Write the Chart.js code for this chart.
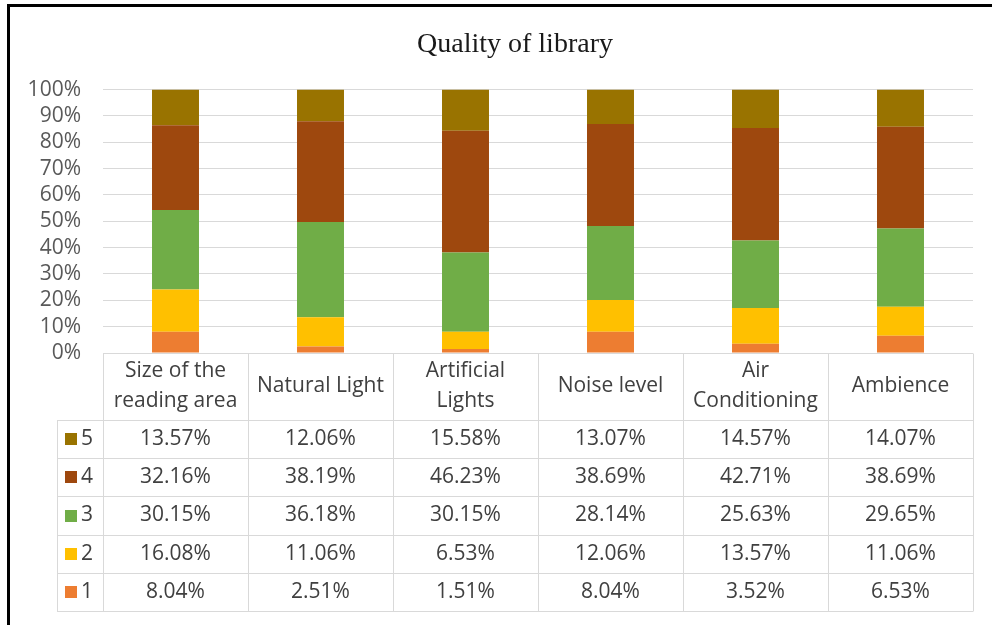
<!DOCTYPE html>
<html>
<head>
<meta charset="utf-8">
<title>Quality of library</title>
<script src="https://cdn.jsdelivr.net/npm/chart.js@4.4.1/dist/chart.umd.min.js"></script>
<style>
  html,body{margin:0;padding:0;background:#fff;}
  #wrap{position:relative;width:992px;height:625px;overflow:hidden;background:#fff;}
  #frame{position:absolute;left:7px;top:4px;right:-10px;bottom:-10px;border-left:3px solid #000;border-top:3px solid #000;pointer-events:none;}
</style>
</head>
<body>
<div id="wrap">
  <canvas id="chart" width="992" height="625"></canvas>
  <div id="frame"></div>
</div>
<script>
// categories (multi-line header labels)
const categories = [
  ["Size of the", "reading area"],
  ["Natural Light"],
  ["Artificial", "Lights"],
  ["Noise level"],
  ["Air", "Conditioning"],
  ["Ambience"]
];

// series, bottom of the stack first
const seriesNames = ["1", "2", "3", "4", "5"];
const seriesColors = ["#ED7D31", "#FFC000", "#70AD47", "#9E480E", "#997300"];

const rating1 = [8.04, 2.51, 1.51, 8.04, 3.52, 6.53];
const rating2 = [16.08, 11.06, 6.53, 12.06, 13.57, 11.06];
const rating3 = [30.15, 36.18, 30.15, 28.14, 25.63, 29.65];
const rating4 = [32.16, 38.19, 46.23, 38.69, 42.71, 38.69];
const rating5 = [13.57, 12.06, 15.58, 13.07, 14.57, 14.07];
const seriesValues = [rating1, rating2, rating3, rating4, rating5];

const yMin = 0, yMax = 100, yStep = 10;

const FONT = "'Open Sans', 'Noto Sans', sans-serif";
const TEXT = "#404040";
const LINE = "#d9d9d9";

const crisp = (v)=>Math.round(v) + 0.5;

// draws the data table under the plot, aligned with the x scale
const dataTable = {
  id: "dataTable",
  afterDraw(chart){
    const { ctx, chartArea: a, scales: { x } } = chart;
    const n = categories.length;
    const half = (a.right - a.left) / n / 2;
    const top = a.bottom;
    const headH = 67, rowH = 38.2;
    const keyLeft = 57;
    const rows = seriesNames.length;
    const bottom = top + headH + rowH * rows;

    ctx.save();
    ctx.strokeStyle = LINE;
    ctx.lineWidth = 1;
    ctx.beginPath();
    // header top
    ctx.moveTo(a.left, crisp(top)); ctx.lineTo(a.right, crisp(top));
    // row lines
    for(let r = 0; r <= rows; r++){
      const y = crisp(top + headH + rowH * r);
      ctx.moveTo(keyLeft, y); ctx.lineTo(a.right, y);
    }
    // key column left edge
    ctx.moveTo(crisp(keyLeft), crisp(top + headH)); ctx.lineTo(crisp(keyLeft), crisp(bottom));
    // column edges
    for(let i = 0; i < n; i++){
      const xl = crisp(x.getPixelForValue(i) - half);
      ctx.moveTo(xl, crisp(top)); ctx.lineTo(xl, crisp(bottom));
    }
    const xr = crisp(a.right);
    ctx.moveTo(xr, crisp(top)); ctx.lineTo(xr, crisp(bottom));
    ctx.stroke();

    ctx.font = "21px " + FONT;
    ctx.fillStyle = TEXT;
    ctx.textAlign = "center";
    ctx.textBaseline = "middle";

    // header labels
    const headMid = top + headH / 2;
    categories.forEach((lines, i)=>{
      const cx = x.getPixelForValue(i);
      lines.forEach((t, k)=>{
        const y = headMid + (k - (lines.length - 1) / 2) * 30;
        ctx.fillText(t, cx, y);
      });
    });

    // value rows, top row is the last series
    for(let r = 0; r < rows; r++){
      const s = rows - 1 - r;
      const cy = top + headH + rowH * r + rowH / 2;
      ctx.fillStyle = seriesColors[s];
      ctx.fillRect(65, Math.round(cy - 6), 12, 12);
      ctx.fillStyle = TEXT;
      ctx.textAlign = "left";
      ctx.fillText(seriesNames[s], 81, cy);
      ctx.textAlign = "center";
      seriesValues[s].forEach((v, i)=>{
        ctx.fillText(v.toFixed(2) + "%", x.getPixelForValue(i), cy);
      });
    }
    ctx.restore();
  }
};

const datasets = seriesNames.map((name, i)=>({
  label: name,
  data: seriesValues[i],
  backgroundColor: seriesColors[i],
  borderWidth: 0,
  categoryPercentage: 1,
  barPercentage: 0.324
}));

new Chart(document.getElementById("chart"), {
  type: "bar",
  data: { labels: categories, datasets },
  options: {
    responsive: false,
    animation: false,
    layout: { padding: { left: 57, right: 19, top: 0, bottom: 272 } },
    plugins: {
      legend: { display: false },
      tooltip: { enabled: false },
      title: {
        display: true,
        text: "Quality of library",
        color: "#1a1a1a",
        font: { family: "'Liberation Serif', 'Times New Roman', serif", size: 28, weight: "normal" },
        padding: { top: 28, bottom: 28 }
      }
    },
    scales: {
      x: {
        display: false,
        stacked: true
      },
      y: {
        stacked: true,
        min: yMin,
        max: yMax,
        afterFit(scale){
          scale.width = 46;
          // tick labels sit left of the axis box, don't clip them
          scale._computeLabelArea = ()=>undefined;
        },
        grid: { color: LINE, drawTicks: false },
        border: { display: false },
        ticks: {
          stepSize: yStep,
          autoSkip: false,
          padding: 22,
          color: "#595959",
          font: { family: FONT, size: 21 },
          callback: (v)=>v + "%"
        }
      }
    }
  },
  plugins: [dataTable]
});
</script>
</body>
</html>
